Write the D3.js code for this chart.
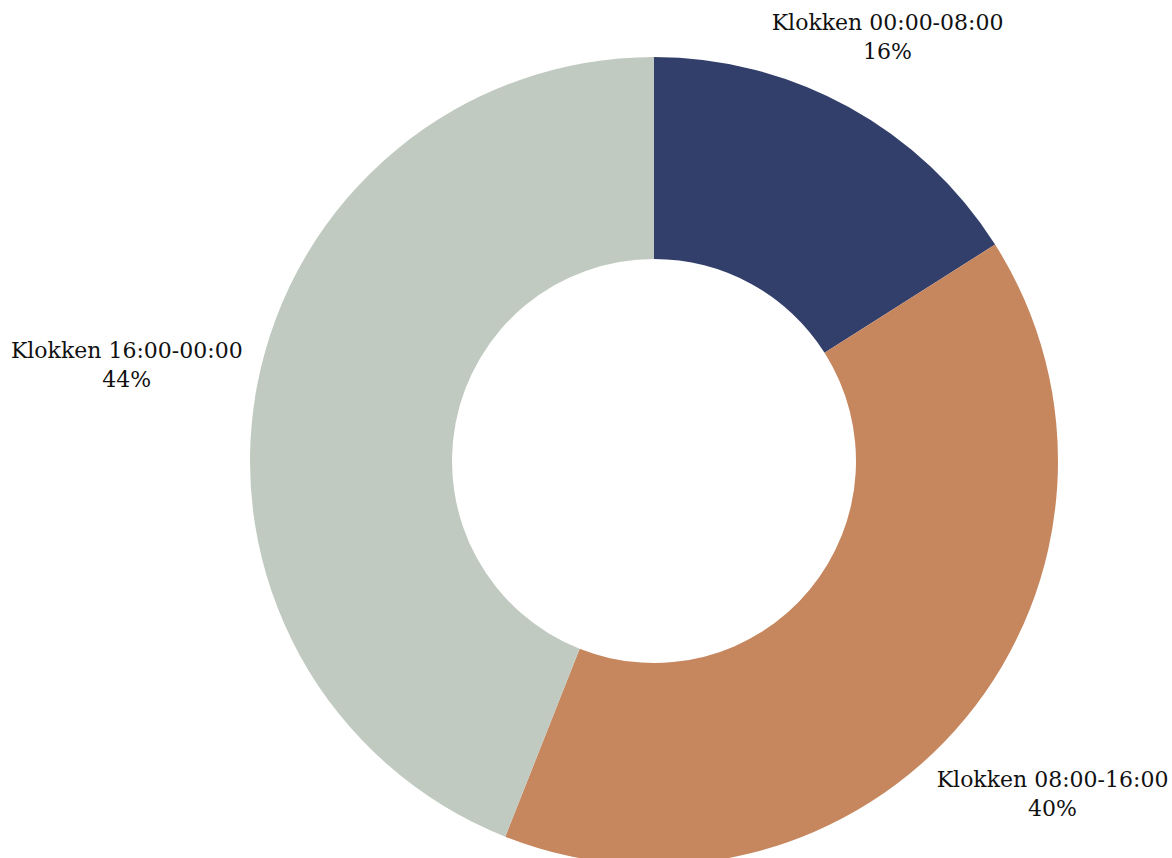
<!DOCTYPE html>
<html>
<head>
<meta charset="utf-8">
<script src="https://cdn.jsdelivr.net/npm/d3@7"></script>
<style>
  html, body { margin: 0; padding: 0; background: #ffffff; }
  svg { display: block; }
  text { font-family: "DejaVu Serif", "Liberation Serif", serif; fill: #111; }
</style>
</head>
<body>
<svg id="chart" width="1172" height="858"></svg>
<script>
// Share of incidents by time of day
const categories = ["Klokken 00:00-08:00", "Klokken 08:00-16:00", "Klokken 16:00-00:00"];
const values = [16, 40, 44];
const valueLabels = ["16%", "40%", "44%"];
const colors = ["#323f6b", "#c6875f", "#c0cac0"];
// small label nudges (px) relative to the outside label anchor
const labelNudge = [[0, 0], [25, 23], [-51, -6]];

const width = 1172, height = 858;
const cx = 654, cy = 461;
const outerR = 404, innerR = 202, labelR = outerR * 1.2;

const svg = d3.select("#chart");
const g = svg.append("g").attr("transform", `translate(${cx},${cy})`);

const data = categories.map((c, i) => ({ name: c, value: values[i], label: valueLabels[i], color: colors[i], nudge: labelNudge[i] }));

const pie = d3.pie().value(d => d.value).sort(null);
const arc = d3.arc().innerRadius(innerR).outerRadius(outerR);
const labelArc = d3.arc().innerRadius(labelR).outerRadius(labelR);

const arcs = pie(data);

g.selectAll("path.slice")
  .data(arcs)
  .join("path")
  .attr("class", "slice")
  .attr("d", arc)
  .attr("fill", d => d.data.color);

const labels = g.selectAll("g.label")
  .data(arcs)
  .join("g")
  .attr("class", "label")
  .attr("transform", d => {
    const [x, y] = labelArc.centroid(d);
    return `translate(${x + d.data.nudge[0]},${y + d.data.nudge[1]})`;
  });

labels.append("text")
  .attr("text-anchor", "middle")
  .attr("y", -6)
  .attr("font-size", 22)
  .text(d => d.data.name);

labels.append("text")
  .attr("text-anchor", "middle")
  .attr("y", 23)
  .attr("font-size", 22)
  .text(d => d.data.label);
</script>
</body>
</html>
